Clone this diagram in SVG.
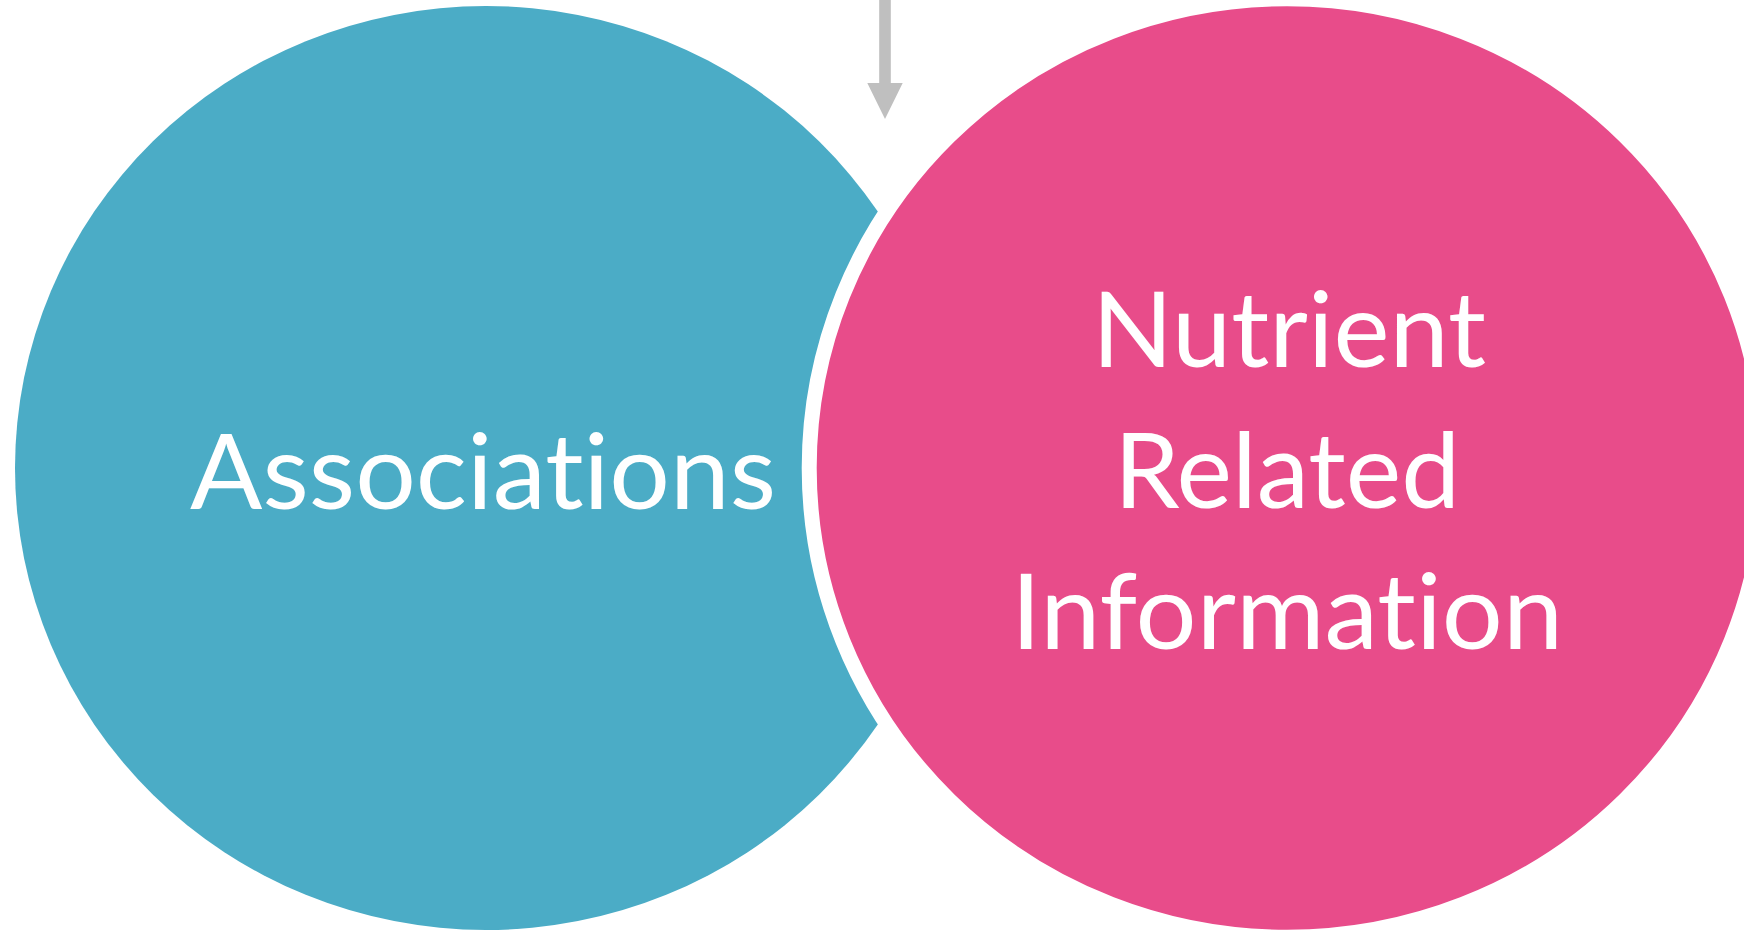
<svg xmlns="http://www.w3.org/2000/svg" width="1744" height="930" viewBox="0 0 1744 930">
  <style>
    .label { font-family: Lato, "Liberation Sans", sans-serif; font-size: 104px; fill: #FFFFFF; text-anchor: middle; font-variant-ligatures: none; font-feature-settings: "liga" 0, "clig" 0; }
  </style>
  <rect x="0" y="0" width="1744" height="930" fill="#FFFFFF"/>
  <g id="node-associations">
    <ellipse cx="486" cy="468" rx="471" ry="462" fill="#4BACC6"/>
    <text class="label" x="483" y="509" textLength="586" lengthAdjust="spacingAndGlyphs">Associations</text>
  </g>
  <g id="node-nutrient">
    <ellipse cx="1287" cy="468" rx="477.8" ry="469.2" fill="#E84C8A" stroke="#FFFFFF" stroke-width="15"/>
    <text class="label" x="1289" y="367" textLength="394" lengthAdjust="spacingAndGlyphs">Nutrient</text>
    <text class="label" x="1287" y="508" textLength="346" lengthAdjust="spacingAndGlyphs">Related</text>
    <text class="label" x="1287" y="649" textLength="552" lengthAdjust="spacingAndGlyphs">Information</text>
  </g>
  <g id="connectors">
    <path d="M879.2,0 L890.8,0 L890.8,83 L902.7,83 L885,119 L867.3,83 L879.2,83 Z" fill="#BFBFBF"/>
  </g>
</svg>
